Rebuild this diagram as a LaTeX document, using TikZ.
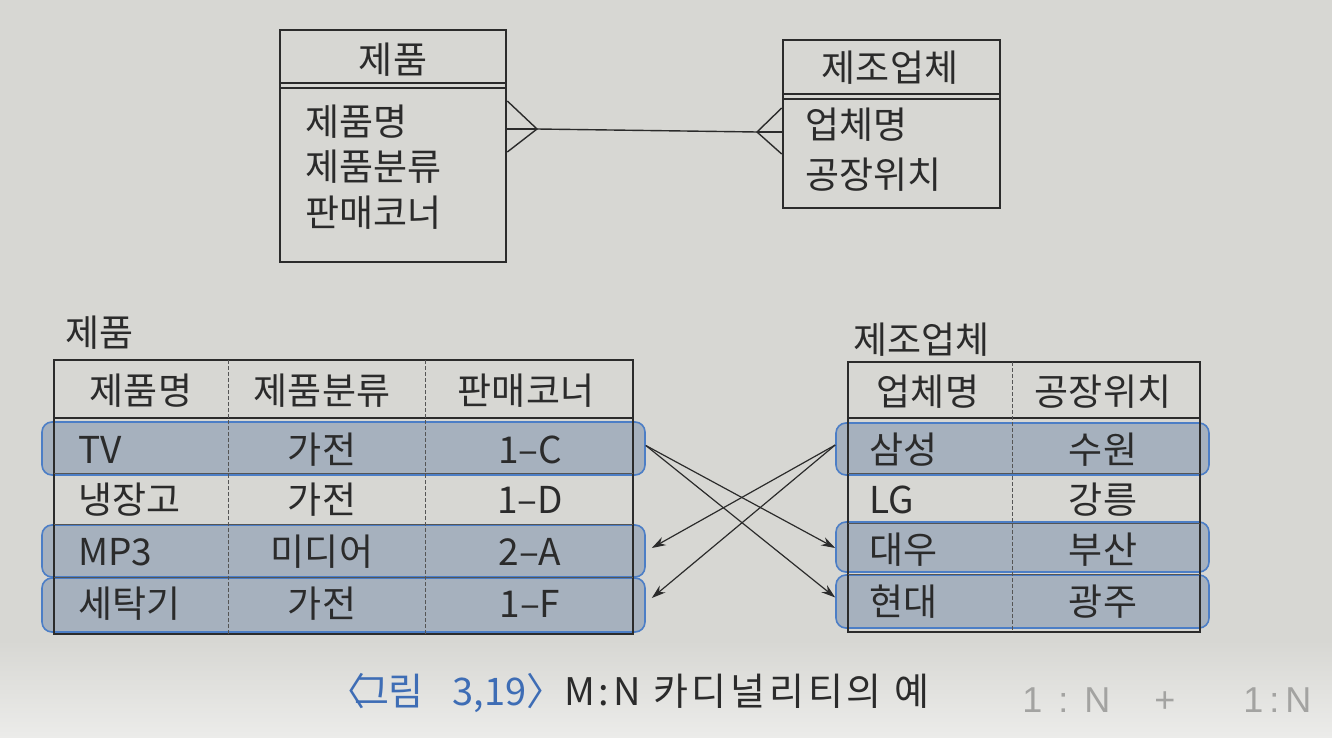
\documentclass[tikz,border=0pt]{standalone}
\usepackage{fontspec}
\setmainfont{Noto Sans CJK KR}
\newfontfamily\handfont{Liberation Sans}
\usetikzlibrary{arrows.meta,fit}
\definecolor{page}{HTML}{D7D7D3}
\definecolor{pagelight}{HTML}{ECECEA}
\definecolor{bandfill}{HTML}{A6B1BE}
\definecolor{bandline}{HTML}{4C7EC6}
\definecolor{ink}{HTML}{2B2B2B}
\definecolor{capblue}{HTML}{3E6DB5}
\definecolor{pencil}{HTML}{A3A3A1}
\begin{document}
\begin{tikzpicture}[x=0.5pt,y=-0.5pt,
  txt/.style={font=\fontsize{18.5}{21}\selectfont, text=ink, inner sep=0pt},
  lft/.style={txt, anchor=west},
  frame/.style={draw=ink, line width=1.3pt, inner sep=0pt},
  band/.style={draw=bandline, line width=0.8pt, fill=bandfill, rounded corners=5pt, inner sep=0pt},
  rowline/.style={draw=ink!80, line width=0.45pt},
  colline/.style={draw=ink!80, line width=0.5pt, dash pattern=on 2pt off 1pt},
  sepline/.style={draw=ink, line width=0.9pt},
  rel/.style={draw=ink, line width=0.7pt},
  arr/.style={draw=ink, line width=0.6pt, -{Stealth[length=7pt,width=4.5pt]}}]
\useasboundingbox (0,0) rectangle (1332,738);
\fill[page] (0,0) rectangle (1332,640);
\shade[top color=page, bottom color=pagelight] (0,640) rectangle (1332,738);

% ---------- ER diagram ----------
\node[frame, fit={(280,30) (506,262)}] (eprod) {};
\draw[sepline] (280,83) -- (506,83);
\draw[sepline] (280,88) -- (506,88);
\node[txt] (eprodt) at (393,60) {제품};
\node[lft] (ea1) at (305,122) {제품명};
\node[lft] (ea2) at (305,167) {제품분류};
\node[lft] (ea3) at (305,213) {판매코너};

\node[frame, fit={(783,40) (1000,208)}] (emak) {};
\draw[sepline] (783,94) -- (1000,94);
\draw[sepline] (783,99) -- (1000,99);
\node[txt] (emakt) at (890,68) {제조업체};
\node[lft] (eb1) at (805,125) {업체명};
\node[lft] (eb2) at (805,175) {공장위치};

\coordinate (cfa) at (537,129);
\coordinate (cfb) at (757,132);
\draw[rel] (eprod.east |- 0,101) -- (cfa) -- (eprod.east |- 0,152);
\draw[rel] (eprod.east |- cfa) -- (cfa);
\draw[rel] (emak.west |- 0,108) -- (cfb) -- (emak.west |- 0,154);
\draw[rel] (emak.west |- cfb) -- (cfb);
\draw[rel] (cfa) -- (cfb);

% ---------- highlight bands ----------
\node[band, fit={(42,422) (645,475)}] (btv) {};
\node[band, fit={(42,525) (645,577)}] (bmp) {};
\node[band, fit={(42,578) (645,632)}] (bsk) {};
\node[band, fit={(836,423) (1209,475)}] (bss) {};
\node[band, fit={(836,522) (1209,572)}] (bdw) {};
\node[band, fit={(836,575) (1209,628)}] (bhd) {};

% ---------- left table ----------
\node[lft] (tl) at (65,333) {제품};
\node[frame, fit={(54,360) (633,634)}] (tprod) {};
\draw[sepline] (54,418) -- (633,418);
\draw[rowline] (54,473) -- (633,473);
\draw[rowline] (54,524) -- (633,524);
\draw[rowline] (54,577) -- (633,577);
\draw[colline] (228,360) -- (228,634);
\draw[colline] (425,360) -- (425,634);
\node[txt] (h1) at (141,391) {제품명};
\node[txt] (h2) at (322,391) {제품분류};
\node[txt] (h3) at (526,391) {판매코너};
\node[lft] (r11) at (78,450) {TV};
\node[lft] (r21) at (78,500) {냉장고};
\node[lft] (r31) at (78,552) {MP3};
\node[lft] (r41) at (78,604) {세탁기};
\node[txt] (r12) at (322,450) {가전};
\node[txt] (r22) at (322,500) {가전};
\node[txt] (r32) at (322,552) {미디어};
\node[txt] (r42) at (322,604) {가전};
\node[txt] (r13) at (530,450) {1–C};
\node[txt] (r23) at (530,500) {1–D};
\node[txt] (r33) at (530,552) {2–A};
\node[txt] (r43) at (530,604) {1–F};

% ---------- right table ----------
\node[lft] (tr) at (853,340) {제조업체};
\node[frame, fit={(848,362) (1200,632)}] (tmak) {};
\draw[sepline] (848,418) -- (1200,418);
\draw[rowline] (848,473) -- (1200,473);
\draw[rowline] (848,523) -- (1200,523);
\draw[rowline] (848,574) -- (1200,574);
\draw[colline] (1012,362) -- (1012,632);
\node[txt] (k1) at (928,392) {업체명};
\node[txt] (k2) at (1103,392) {공장위치};
\node[lft] (s11) at (869,450) {삼성};
\node[lft] (s21) at (869,500) {LG};
\node[lft] (s31) at (869,550) {대우};
\node[lft] (s41) at (869,602) {현대};
\node[txt] (s12) at (1103,450) {수원};
\node[txt] (s22) at (1103,500) {강릉};
\node[txt] (s32) at (1103,550) {부산};
\node[txt] (s42) at (1103,602) {광주};

% ---------- arrows ----------
\draw[arr] ([yshift=1.5pt]btv.east) -- ([yshift=-0.5pt]bdw.west);
\draw[arr] ([yshift=1.5pt]btv.east) -- ([yshift=2pt]bhd.west);
\draw[arr] ([yshift=2pt]bss.west) -- ([xshift=3pt,yshift=1.5pt]bmp.east);
\draw[arr] ([yshift=2pt]bss.west) -- ([xshift=3pt,yshift=3.5pt]bsk.east);

% ---------- caption ----------
\node[lft, font=\fontsize{19}{22}\selectfont] (cap) at (327,693)
  {{\color{capblue}〈\hspace{-0.3em}그림\hspace{0.75em}3,19〉}{\addfontfeature{LetterSpace=10}M:N 카디널리티의 예}};
\node[anchor=west, inner sep=0pt, text=pencil, font=\handfont\fontsize{18}{20}\selectfont] (hand) at (1022,700)
  {1\hspace{8pt}:\hspace{8pt}N\hspace{22pt}+\hspace{34pt}1\hspace{3pt}:\hspace{3pt}N};
\end{tikzpicture}
\end{document}
